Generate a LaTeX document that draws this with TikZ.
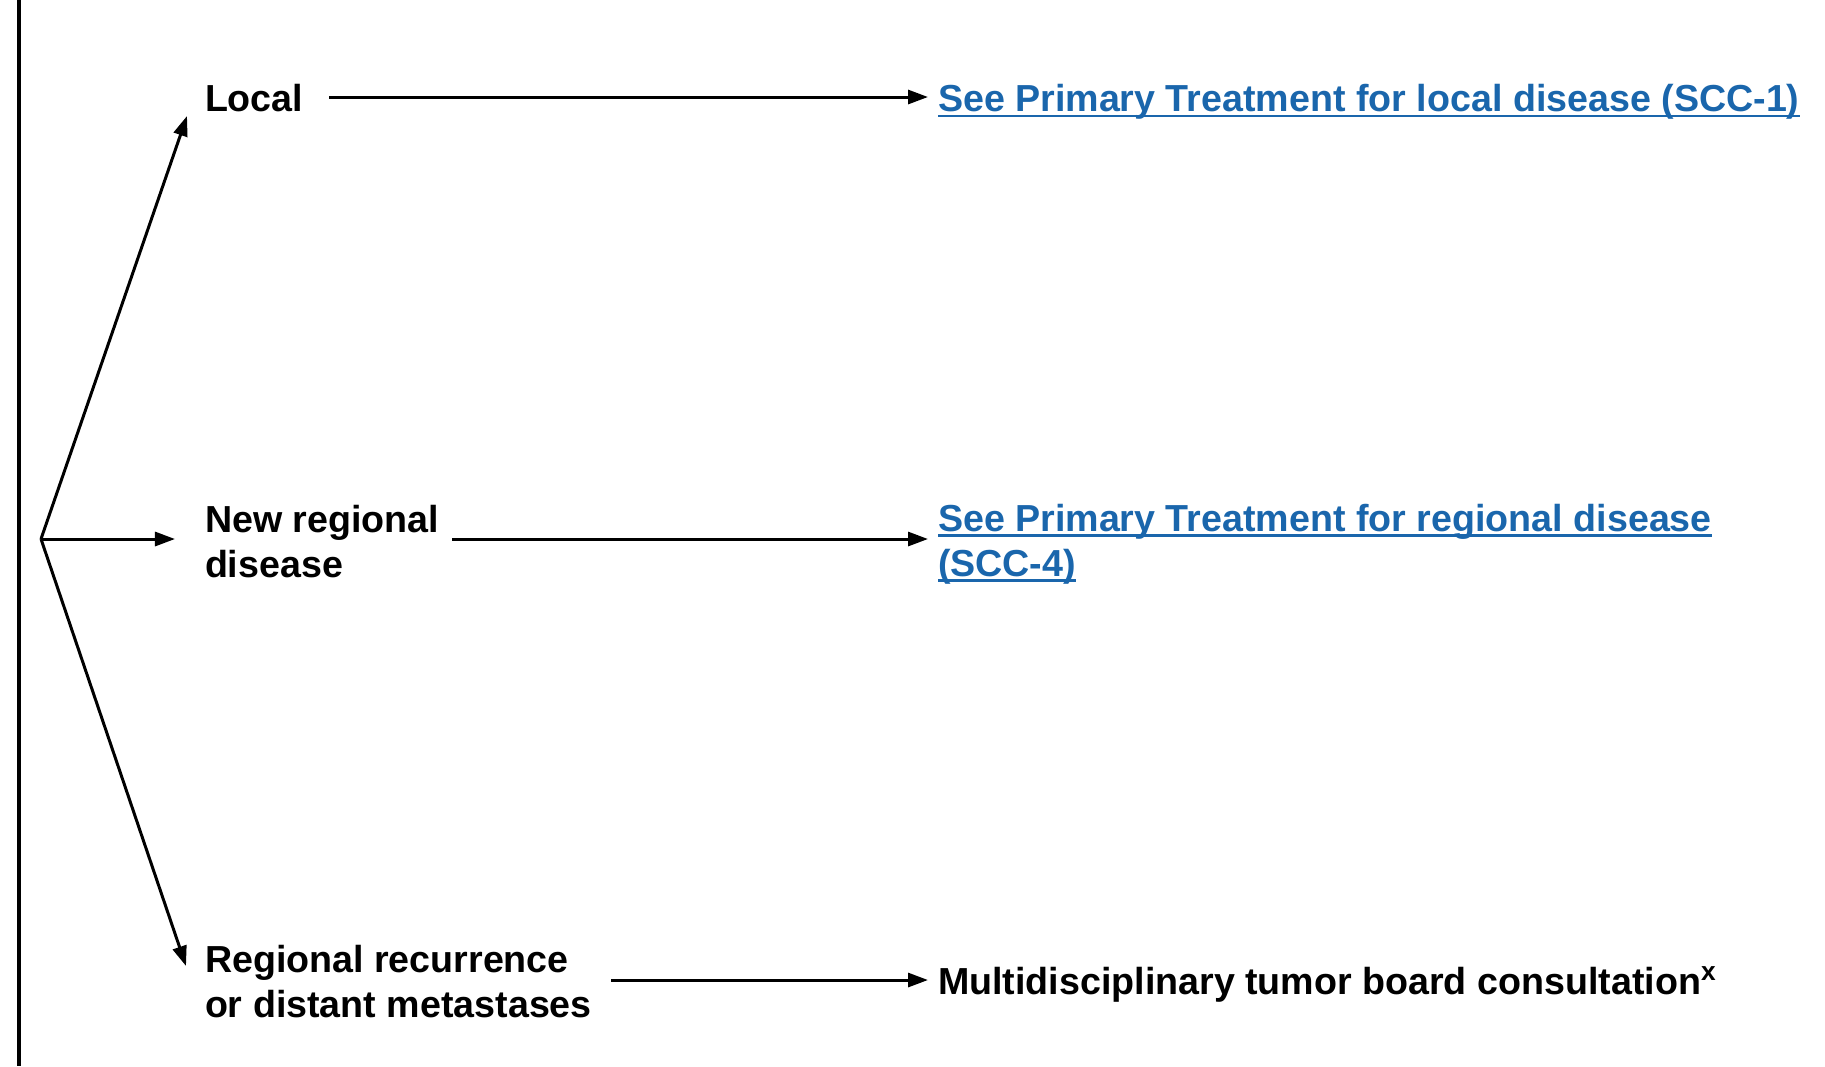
\documentclass[tikz,border=0pt]{standalone}
\usepackage{fontspec}
\setmainfont{Liberation Sans}
\usetikzlibrary{arrows.meta}
\definecolor{linkblue}{RGB}{26,102,172}
% underlined link text at a fixed depth below the baseline
\newcommand{\linkul}[1]{\sbox0{#1}\rlap{\rule[-1.5pt]{\wd0}{0.7pt}}\usebox0}
\begin{document}
\begin{tikzpicture}[x=0.01cm,y=-0.01cm,
  every node/.style={inner sep=0pt,outer sep=0pt,font=\fontsize{10.7}{12.8}\selectfont\bfseries,align=left},
  linktext/.style={text=linkblue},
  arr/.style={line width=0.85pt,-{Triangle[length=0.2cm,width=0.14cm]}},
  rail/.style={line width=0.9pt}]
\useasboundingbox (0,0) rectangle (1825,1066);

% left rail
\coordinate (railtop) at (19,0);
\coordinate (railbot) at (19,1066);
\draw[rail] (railtop) -- (railbot);

% branch point and arrow tips
\coordinate (fork) at (41,539);
\coordinate (tipA) at (187,116);
\coordinate (tipB) at (175,539);
\coordinate (tipC) at (186,966);

% category labels
\node[anchor=west] (local) at (205,98) {Local};
\node[anchor=west] (newreg) at (205,542) {New regional\\disease};
\node[anchor=west] (recur) at (205,982) {Regional recurrence\\or distant metastases};

% outcomes
\node[anchor=west,linktext] (seeA) at (938,102) {\linkul{See Primary Treatment for local disease (SCC-1)}};
\node[anchor=west,linktext] (seeB) at (938,544) {\linkul{See Primary Treatment for regional disease}\\\linkul{(SCC-4)}};
\node[anchor=west] (mdt) at (938,984) {Multidisciplinary tumor board consultation\textsuperscript{x}};

% branches
\draw[arr] (fork) -- (tipA);
\draw[arr] (fork) -- (tipB);
\draw[arr] (fork) -- (tipC);

% horizontal arrows
\coordinate (a1) at (329,97);
\coordinate (b1) at (928,97);
\coordinate (a2) at (452,539);
\coordinate (b2) at (928,539);
\coordinate (a3) at (611,980);
\coordinate (b3) at (928,980);
\draw[arr] (a1) -- (b1);
\draw[arr] (a2) -- (b2);
\draw[arr] (a3) -- (b3);
\end{tikzpicture}
\end{document}
